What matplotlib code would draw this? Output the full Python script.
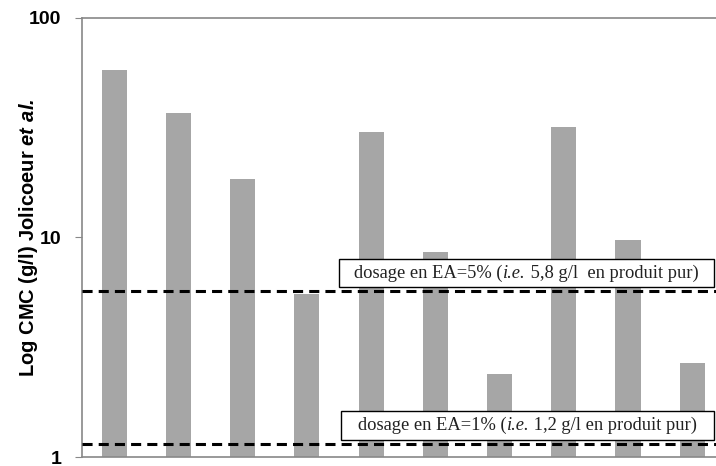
import matplotlib
matplotlib.use("Agg")
import matplotlib.pyplot as plt
from matplotlib.patches import Rectangle

plt.rcParams.update({
    "font.family": "Liberation Sans",
    "mathtext.fontset": "custom",
    "mathtext.bf": "Liberation Sans:bold",
    "mathtext.bfit": "Liberation Sans:italic:bold",
})

# Data
cmc_values = [58, 37, 18.5, 5.5, 30.3, 8.6, 2.38, 32, 9.7, 2.67]
dose_levels = [5.7, 1.15]
dose_labels = [
    [("dosage en EA=5% (", "normal"), ("i.e.", "italic"), (" 5,8 g/l  en produit pur)", "normal")],
    [("dosage en EA=1% (", "normal"), ("i.e.", "italic"), (" 1,2 g/l en produit pur)", "normal")],
]
y_ticks = [1, 10, 100]
y_ticklabels = ["1", "10", "100"]

BAR_COLOR = "#A6A6A6"
AXIS_COLOR = "#888888"


def mixed_text(ax, xc, yc, parts, **kw):
    """Draw text pieces of mixed style centred on (xc, yc) in axes coords."""
    renderer = ax.figure.canvas.get_renderer()
    texts, widths = [], []
    for s, style in parts:
        t = ax.text(0, 0, s, style=style, transform=None, va="center", ha="left", **kw)
        widths.append(t.get_window_extent(renderer).width)
        texts.append(t)
    cx, cy = ax.transAxes.transform((xc, yc))
    x0 = cx - sum(widths) / 2
    for t, w in zip(texts, widths):
        t.set_position((x0, cy))
        x0 += w


fig = plt.figure(figsize=(7.16, 4.66), dpi=100)
ax = fig.add_axes([82 / 716, 9 / 466, 634 / 716, 439 / 466])

x = list(range(len(cmc_values)))
ax.bar(x, cmc_values, width=0.39, color=BAR_COLOR, zorder=2)

ax.set_yscale("log")
ax.set_ylim(1, 100)
ax.set_xlim(-0.5, 9.37)
ax.set_yticks(y_ticks)
ax.set_yticklabels(y_ticklabels, fontsize=14, fontweight="bold")
ax.yaxis.set_minor_locator(matplotlib.ticker.NullLocator())
ax.tick_params(axis="y", length=5, color=AXIS_COLOR, pad=10)
ax.set_xticks([])

for side in ["left", "top", "bottom"]:
    ax.spines[side].set_color(AXIS_COLOR)
    ax.spines[side].set_linewidth(1.2)
ax.spines["right"].set_visible(False)

# Threshold lines
for level in dose_levels:
    ax.axhline(level, color="black", linewidth=2.2, linestyle=(0, (3.3, 2.0)),
               zorder=3, clip_on=False)

# Label boxes
box_specs = [(0.405, 0.387, 0.592, 0.064), (0.409, 0.039, 0.588, 0.066)]
for (bx, by, bw, bh), parts in zip(box_specs, dose_labels):
    ax.add_patch(Rectangle((bx, by), bw, bh, transform=ax.transAxes,
                           facecolor="white", edgecolor="black", linewidth=1.0,
                           zorder=4, clip_on=False))
    mixed_text(ax, bx + bw / 2, by + bh / 2, parts, fontsize=13.3,
               family="Liberation Serif", color="#222222", zorder=5)

ax.set_ylabel(r"Log CMC (g/l) Jolicoeur $\mathbfit{et\ al.}$",
              fontsize=14.5, fontweight="bold")
ax.yaxis.set_label_coords(-0.067, 0.5)

fig.savefig("out.png", dpi=100)
